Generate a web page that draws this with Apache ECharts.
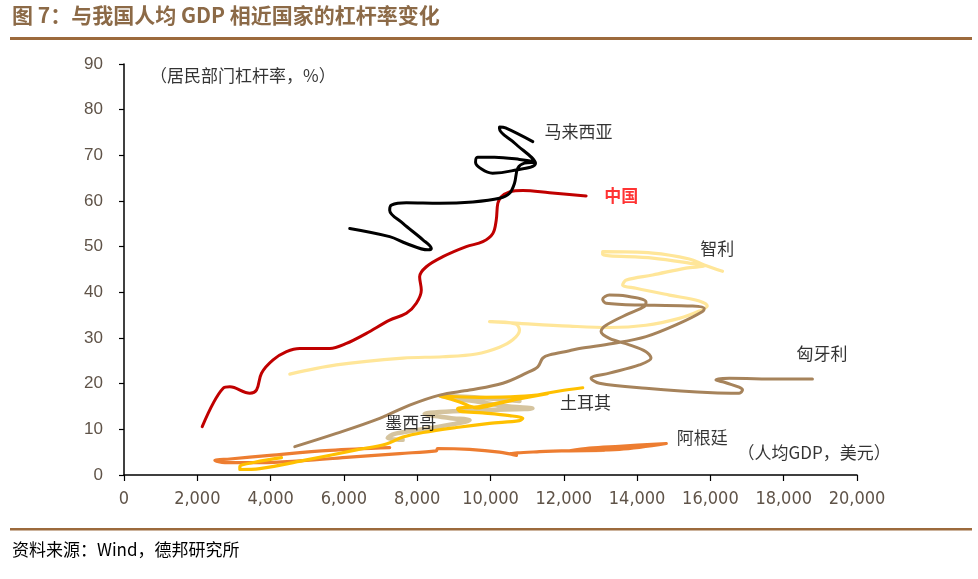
<!DOCTYPE html>
<html>
<head>
<meta charset="utf-8">
<script src="https://cdn.jsdelivr.net/npm/echarts@6/dist/echarts.min.js"></script>
<style>
html,body{margin:0;padding:0;background:#fff;}
#c{width:978px;height:579px;}
</style>
</head>
<body>
<div id="c"></div>
<script>
// ---- data: [GDP per capita (USD), household leverage (%)] ----
const xTicks = [0, 2000, 4000, 6000, 8000, 10000, 12000, 14000, 16000, 18000, 20000];
const yTicks = [0, 10, 20, 30, 40, 50, 60, 70, 80, 90];

const china = [[2134,10.6],[2706,19.0],[2889,19.3],[3434,17.9],[3616,18.6],[3752,22.3],[4068,25.2],[4434,27.0],[4796,27.7],[5614,27.7],[6069,28.8],[6614,31.0],[7249,33.9],[7704,35.4],[7976,37.6],[8112,40.5],[8066,43.4],[8249,45.6],[8701,47.8],[9339,50.0],[9791,51.1],[10064,52.9],[10156,55.8],[10200,59.5],[10292,60.9],[10519,62.0],[10881,62.3],[11609,61.8],[12609,61.1]];

const malaysia = [[6159,54.0],[7249,52.2],[7704,50.7],[8292,49.3],[8385,49.6],[8156,51.5],[7611,55.1],[7249,58.0],[7295,59.1],[7704,59.6],[8611,59.5],[9519,59.8],[10246,60.6],[10519,61.7],[10655,63.9],[10745,67.2],[10927,68.3],[11227,68.5],[10791,69.1],[10110,69.6],[9647,69.6],[9592,68.5],[9756,67.0],[10055,66.1],[10573,66.6],[11227,68.2],[10655,72.7],[10246,75.8],[10246,76.2],[10410,76.0],[11154,73.0]];

const chile = [[4524,22.1],[5796,24.1],[7611,25.6],[8701,25.9],[9611,26.5],[10246,28.0],[10608,29.6],[10791,31.7],[10682,33.1],[9974,33.6],[10791,33.2],[12154,32.6],[13244,32.3],[14243,32.8],[15151,34.3],[15696,35.9],[15914,37.0],[15696,38.1],[14879,39.4],[13971,40.9],[13606,41.6],[13707,42.7],[14424,43.8],[15334,45.3],[15832,45.8],[15424,46.4],[14424,47.5],[13061,48.3],[13061,48.9],[14424,48.6],[15424,47.3],[15832,46.0],[16331,44.6]];

const hungary = [[4660,6.2],[5796,9.1],[6976,12.4],[7794,15.3],[8611,17.5],[9429,18.6],[10336,20.1],[10973,22.3],[11290,23.7],[11426,25.6],[11609,26.3],[12154,27.2],[12426,27.7],[13334,28.8],[14243,30.3],[15151,33.2],[15786,35.8],[15832,36.5],[15514,37.0],[14243,37.2],[13154,37.6],[13061,38.5],[13244,39.4],[13698,39.2],[14243,37.9],[14197,36.9],[13789,35.4],[13154,32.8],[13017,31.4],[13244,29.9],[13789,28.5],[14243,27.0],[14380,25.6],[14061,24.1],[13244,22.3],[12745,21.2],[12971,20.1],[14243,19.0],[16058,18.0],[16786,17.9],[16876,18.6],[16423,20.2],[16151,20.8],[16514,21.2],[17876,21.0],[18784,21.0]];

const turkey = [[4297,3.8],[3570,2.8],[3161,1.8],[3161,1.2],[3706,1.4],[4979,3.3],[6341,5.5],[7159,6.8],[7611,8.3],[8156,9.3],[9066,10.4],[9974,11.3],[10791,11.9],[10881,12.4],[10519,13.0],[9791,13.6],[9156,14.0],[9102,14.5],[9701,15.0],[10519,16.3],[11554,17.8],[10791,17.2],[9701,17.0],[8611,17.3],[9156,16.0],[9620,14.7],[10246,15.7],[11064,17.2],[11881,18.4],[12516,19.1]];

const mexico = [[7603,7.7],[7194,8.1],[7385,9.0],[8066,9.9],[9020,11.2],[9429,12.0],[8884,12.5],[8202,13.4],[8611,13.8],[9701,14.2],[11145,14.6],[10382,15.1],[9701,16.0],[9156,16.6],[8666,17.3],[9429,17.1],[10246,16.6],[10791,16.2]];

const argentina = [[7249,6.0],[5614,5.4],[3979,4.3],[2889,3.5],[2480,3.2],[2752,2.7],[3706,2.7],[4796,3.1],[6159,3.9],[7521,4.7],[8521,5.3],[8557,5.8],[9429,5.6],[10246,5.0],[10709,4.3],[10519,4.6],[11336,5.1],[12426,5.4],[13516,5.6],[14797,6.9],[13516,6.3],[12699,5.9],[12154,5.3],[13107,5.4]];

// annotation texts anchored in data space: [x, y, text]
const labels = [
  [3243, 87.4, '（居民部门杠杆率，%）'],
  [12399, 75.3, '马来西亚'],
  [13570, 61.1, '中国'],
  [16187, 49.5, '智利'],
  [19048, 26.7, '匈牙利'],
  [12590, 15.8, '土耳其'],
  [7821, 11.4, '墨西哥'],
  [15778, 8.1, '阿根廷'],
  [18830, 5.0, '（人均GDP，美元）']
];

const cjk = '"Noto Sans CJK SC", "Noto Sans", sans-serif';
function lineSeries(name, data, color, width) {
  return {
    name: name, type: 'line', data: data, smooth: 0.35, symbol: 'none',
    lineStyle: { color: color, width: width, cap: 'round', join: 'round' },
    silent: true
  };
}

const chart = echarts.init(document.getElementById('c'), null, { renderer: 'canvas' });
chart.setOption({
  animation: false,
  backgroundColor: '#ffffff',
  grid: { left: 124, right: 121, top: 64, bottom: 104, containLabel: false },
  xAxis: {
    type: 'value', min: xTicks[0], max: xTicks[xTicks.length - 1], interval: xTicks[1] - xTicks[0],
    axisLine: { show: true, lineStyle: { color: '#000', width: 1.5 } },
    axisTick: { show: true, inside: false, length: 6, lineStyle: { color: '#000', width: 1.2 } },
    splitLine: { show: false },
    axisLabel: {
      margin: 15, color: '#5f5348', fontSize: 18,
      fontFamily: '"Liberation Sans Narrow", "DejaVu Sans Condensed", sans-serif',
      formatter: v => v.toLocaleString('en-US')
    }
  },
  yAxis: {
    type: 'value', min: yTicks[0], max: yTicks[yTicks.length - 1], interval: yTicks[1] - yTicks[0],
    axisLine: { show: true, lineStyle: { color: '#000', width: 1.5 } },
    axisTick: { show: true, inside: false, length: 5, lineStyle: { color: '#000', width: 1.2 } },
    splitLine: { show: false },
    axisLabel: { margin: 21, color: '#5f5348', fontSize: 17, fontFamily: '"Liberation Sans", Arial, sans-serif' }
  },
  series: [
    lineSeries('阿根廷', argentina, '#ed7d31', 3.2),
    lineSeries('墨西哥', mexico, '#d5c49f', 4.5),
    lineSeries('土耳其', turkey, '#ffc000', 3.2),
    lineSeries('智利', chile, '#ffe699', 3.2),
    lineSeries('匈牙利', hungary, '#a6835b', 3),
    lineSeries('中国', china, '#c00000', 3),
    lineSeries('马来西亚', malaysia, '#000000', 3),
    {
      type: 'scatter', symbolSize: 0, silent: true, z: 10,
      data: labels.map(l => ({
        value: [l[0], l[1]], name: l[2],
        label: { color: l[2] === '中国' ? '#ff0000' : '#000000', fontWeight: l[2] === '中国' ? 'bold' : 'normal' }
      })),
      label: { show: true, position: 'inside', formatter: '{b}', fontSize: 17, fontFamily: cjk, color: '#000' }
    }
  ],
  graphic: [
    { type: 'text', left: 12, top: 5, style: { text: '图 7：与我国人均 GDP 相近国家的杠杆率变化', fill: '#8c6a47', font: 'bold 21px ' + cjk } },
    { type: 'rect', shape: { x: 10, y: 37, width: 962, height: 3 }, style: { fill: '#9c6a3c' } },
    { type: 'rect', shape: { x: 10, y: 528, width: 962, height: 2.5 }, style: { fill: '#9c6a3c' } },
    { type: 'text', left: 12, top: 541, style: { text: '资料来源：Wind，德邦研究所', fill: '#000000', font: '17px ' + cjk } }
  ]
});
</script>
</body>
</html>
